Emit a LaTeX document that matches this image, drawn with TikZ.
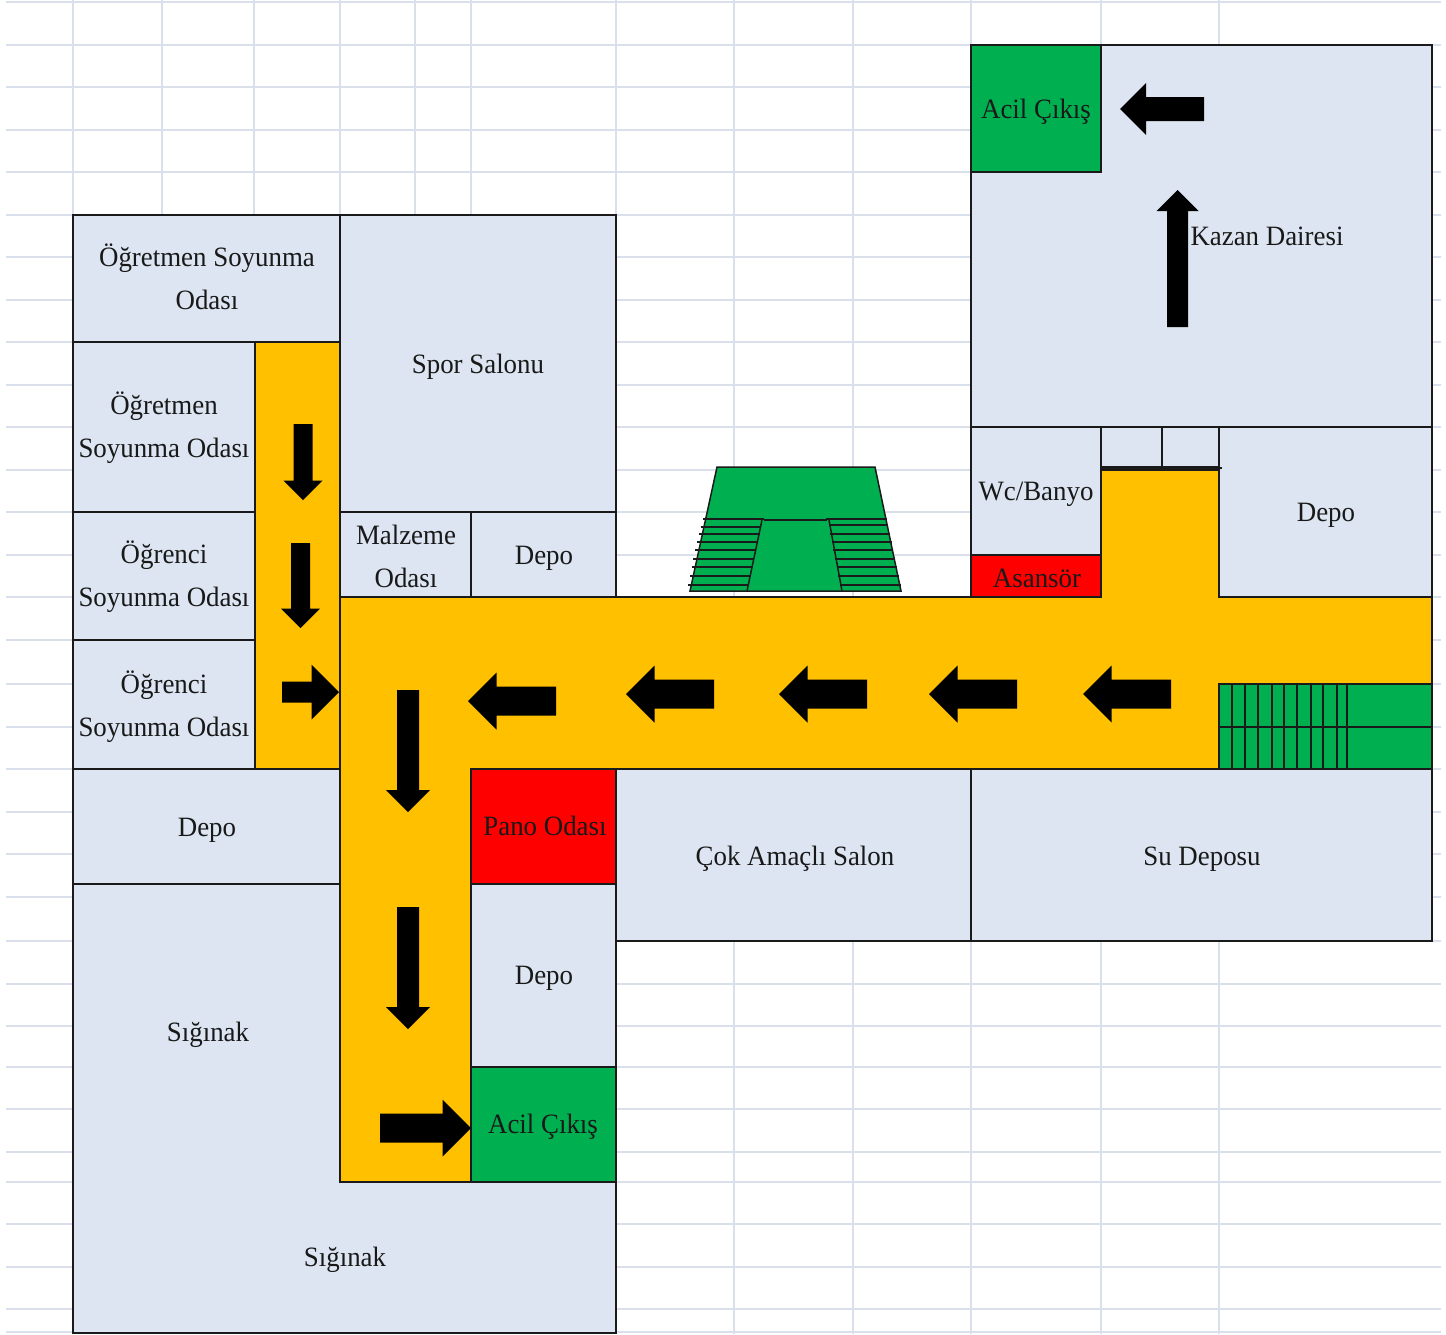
\documentclass[tikz,border=0pt]{standalone}
\usepackage{fontspec}
\setmainfont[FakeStretch=0.96]{Liberation Serif}
\definecolor{roomblue}{HTML}{DCE5F1}
\definecolor{corridor}{HTML}{FFC000}
\definecolor{exitgreen}{HTML}{00B050}
\definecolor{alarmred}{HTML}{FF0000}
\definecolor{gridblue}{HTML}{D9DFEB}
\definecolor{inkline}{HTML}{1A1A1A}
\tikzset{
  wall/.style={draw=inkline,line width=1.5pt,line join=miter},
  gridline/.style={draw=gridblue,line width=1.6pt},
  label/.style={font=\fontsize{28}{43}\selectfont,align=center,inner sep=0pt,text=black!90},
  stairline/.style={draw=inkline,line width=1.7pt},
  blockarrow/.style={fill=black,draw=none}
}
% name, x1, y1, x2, y2, fill, text x, text y, text
\newcommand{\roomcell}[9]{%
  \filldraw[wall,fill=#6] (#2,#3) rectangle (#4,#5);
  \node[label] (#1) at (#7,#8) {#9};
}
% name, tip x, tip y, length, direction, head width, shaft width
\newcommand{\blockarr}[7]{%
  \coordinate (#1) at (#2,#3);
  \begin{scope}[shift={(#1)},rotate=#5]
    \pgfmathsetmacro{\hw}{#6/2}
    \pgfmathsetmacro{\sw}{#7/2}
    \fill[blockarrow] (0pt,0pt) -- (-\hw pt,\hw pt) -- (-\hw pt,\sw pt) -- (-#4pt,\sw pt) -- (-#4pt,-\sw pt) -- (-\hw pt,-\sw pt) -- (-\hw pt,-\hw pt) -- cycle;
  \end{scope}
}
\begin{document}
\begin{tikzpicture}[x=1pt,y=-1pt]
\useasboundingbox (0,0) rectangle (1446,1334);
\fill[white] (0,0) rectangle (1446,1334);
% spreadsheet grid
\foreach \gy in {2,45,87,130,172,215,257,300,342,385,427,470,512,555,597,640,684,727,769,812,854,897,941,984,1026,1067,1109,1152,1182,1224,1267,1309,1332}
  \draw[gridline] (6,\gy) -- (1441,\gy);
\foreach \gx in {73,162,254,340,415,471,616,734,853,971,1101,1219}
  \draw[gridline] (\gx,0) -- (\gx,1334);
% corridors
\filldraw[wall,fill=corridor] (255,342) rectangle (340,769);
\filldraw[wall,fill=corridor] (340,597) -- (1101,597) -- (1101,470) -- (1219,470) -- (1219,597) -- (1432,597) -- (1432,769) -- (471,769) -- (471,1182) -- (340,1182) -- cycle;
% rooms
\roomcell{kazan}{971}{45}{1432}{427}{roomblue}{1267}{236}{Kazan Dairesi}
\roomcell{acil1}{971}{45}{1101}{172}{exitgreen}{1036}{112}{Acil Çıkış}
\roomcell{wc}{971}{427}{1101}{555}{roomblue}{1036}{494}{Wc/Banyo}
\roomcell{asansor}{971}{555}{1101}{597}{alarmred}{1037}{578}{Asansör}
\roomcell{depoA}{1219}{427}{1432}{597}{roomblue}{1326}{515}{Depo}
\roomcell{spor}{340}{215}{616}{512}{roomblue}{478}{367}{Spor Salonu}
\roomcell{ogrtA}{73}{215}{340}{342}{roomblue}{207}{277}{Öğretmen Soyunma\\Odası}
\roomcell{ogrtB}{73}{342}{255}{512}{roomblue}{164}{428}{Öğretmen\\Soyunma Odası}
\roomcell{ogrnA}{73}{512}{255}{640}{roomblue}{164}{577}{Öğrenci\\Soyunma Odası}
\roomcell{ogrnB}{73}{640}{255}{769}{roomblue}{164}{707}{Öğrenci\\Soyunma Odası}
\roomcell{malz}{340}{512}{471}{597}{roomblue}{406}{556}{Malzeme\\Odası}
\roomcell{depoB}{471}{512}{616}{597}{roomblue}{544}{558}{Depo}
\roomcell{depoC}{73}{769}{340}{884}{roomblue}{207}{830}{Depo}
\roomcell{pano}{471}{769}{616}{884}{alarmred}{545}{826}{Pano Odası}
\roomcell{cok}{616}{769}{971}{941}{roomblue}{795}{859}{Çok Amaçlı Salon}
\roomcell{su}{971}{769}{1432}{941}{roomblue}{1202}{859}{Su Deposu}
\roomcell{depoD}{471}{884}{616}{1067}{roomblue}{544}{978}{Depo}
\roomcell{acil2}{471}{1067}{616}{1182}{exitgreen}{543}{1127}{Acil Çıkış}
% shelter
\filldraw[wall,fill=roomblue] (73,884) -- (340,884) -- (340,1182) -- (616,1182) -- (616,1333) -- (73,1333) -- cycle;
\node[label] (siginakA) at (208,1035) {Sığınak};
\node[label] (siginakB) at (345,1260) {Sığınak};
% small cells above the corridor
\filldraw[wall,fill=roomblue] (1101,427) rectangle (1219,467);
\draw[wall] (1162,427) -- (1162,467);
\draw[stairline,line width=2pt] (1101,467.5) -- (1222,467.5);
% staircase, top view
\filldraw[wall,fill=exitgreen] (717,467) -- (875,467) -- (901,591) -- (690,591) -- cycle;
\draw[wall] (764,520) -- (827,520);
\draw[wall] (762,520) -- (747,591);
\draw[wall] (829,520) -- (842,591);
\foreach \lx/\rx/\ly in {703/764/519,701/761/527,699/760/534,697/757/542,695/756/550,693/753/559,692/752/567,690/750/576,688/748/585}
  \draw[stairline] (\lx,\ly) -- (\rx,\ly);
\foreach \lx/\rx/\ly in {826/887/519,829/888/525,830/890/534,832/892/542,833/893/550,835/895/559,837/897/567,838/899/576,840/901/585}
  \draw[stairline] (\lx,\ly) -- (\rx,\ly);
% staircase, right end of corridor
\filldraw[wall,fill=exitgreen] (1219,684) rectangle (1432,769);
\draw[stairline] (1219,727) -- (1432,727);
\foreach \sx in {1232.3,1245,1258.3,1271.7,1284.3,1297.3,1310.7,1323.3,1336.7,1347.3}
  \draw[stairline] (\sx,684) -- (\sx,769);
% arrows
\blockarr{arKazanL}{1120}{109}{84}{180}{52}{24}
\blockarr{arKazanU}{1177.5}{190}{137}{90}{42}{21}
\blockarr{arColA}{303}{500}{76}{270}{39}{19}
\blockarr{arColB}{300.5}{628}{85}{270}{39}{19}
\blockarr{arColC}{339}{692}{57}{0}{55}{21}
\blockarr{arCorA}{1083}{694}{88}{180}{57}{29}
\blockarr{arCorB}{929}{694}{88}{180}{57}{29}
\blockarr{arCorC}{779}{694}{88}{180}{57}{29}
\blockarr{arCorD}{626}{694}{88}{180}{57}{29}
\blockarr{arCorE}{468}{701}{88}{180}{57}{29}
\blockarr{arDownA}{408}{812}{122}{270}{44}{22}
\blockarr{arDownB}{408}{1029}{122}{270}{44}{22}
\blockarr{arExit}{471}{1128}{91}{0}{57}{29}
\end{tikzpicture}
\end{document}
